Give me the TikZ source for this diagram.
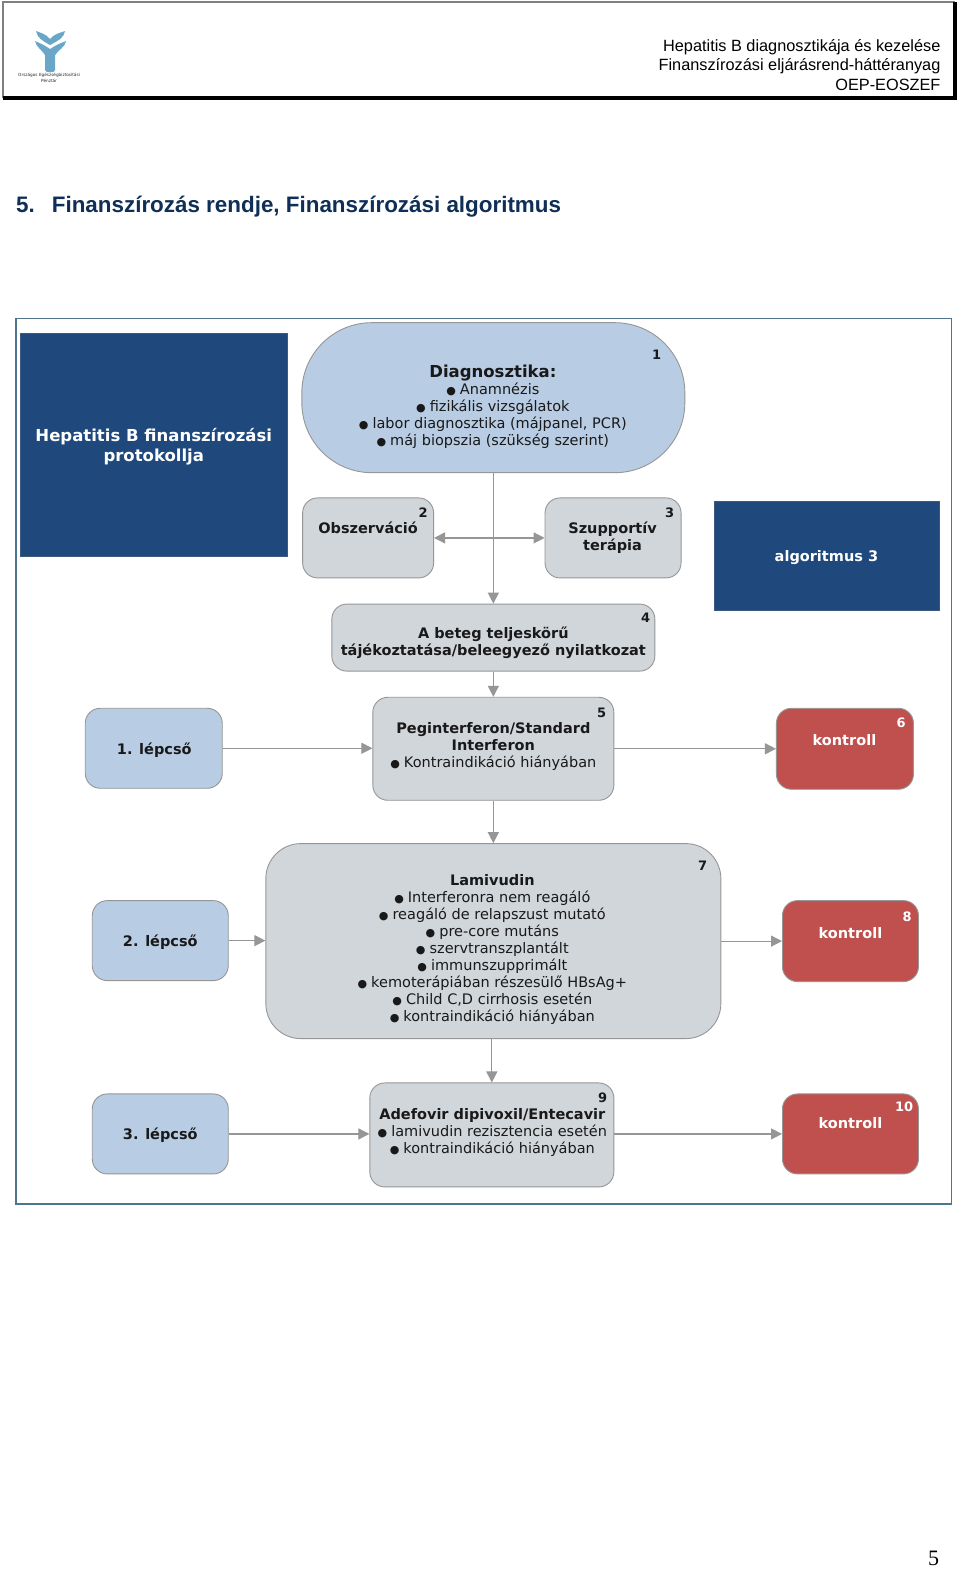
\documentclass[tikz,border=0pt]{standalone}
\usepackage{fontspec}
\setmainfont{DejaVu Sans}
\newfontfamily\arialfont{Liberation Sans}
\newfontfamily\serifont{Liberation Serif}
\usepackage{xcolor}
\definecolor{PanelBlue}{HTML}{1F497D}
\definecolor{StepBlue}{HTML}{B8CCE4}
\definecolor{BoxGrey}{HTML}{D1D6DB}
\definecolor{CheckRed}{HTML}{C0504D}
\definecolor{LineGrey}{HTML}{969696}
\definecolor{FrameBlue}{HTML}{4F7490}
\definecolor{TitleBlue}{HTML}{0F2F57}
\definecolor{LogoBlue}{HTML}{6AA6C8}
\usetikzlibrary{arrows.meta}
\newcommand{\pont}{{\fontsize{11}{11}\selectfont ●}\hspace{4pt}}
\tikzset{
  panel/.style={fill=PanelBlue, draw=PanelBlue!70!gray, inner sep=0pt},
  flowbox/.style={draw=LineGrey, line width=0.9pt, inner sep=0pt},
  greybox/.style={flowbox, fill=BoxGrey, rounded corners=15},
  stepbox/.style={flowbox, fill=StepBlue, rounded corners=15},
  redbox/.style={flowbox, fill=CheckRed, rounded corners=15},
  conn/.style={draw=LineGrey, line width=1.2pt, -{Triangle[length=11pt,width=11pt]}},
  boxtext/.style={align=center, font=\fontsize{14.5}{17}\selectfont, text=black!90},
  boldtext/.style={boxtext, font=\fontsize{14.5}{17}\selectfont\bfseries},
  numtext/.style={font=\fontsize{13}{13}\selectfont\bfseries, text=black!90},
  head/.style={anchor=east, inner sep=0pt, font=\arialfont\fontsize{16.3}{16.3}\selectfont, text=black},
}
\begin{document}
\begin{tikzpicture}[x=1.0017pt, y=-1.0017pt]
\useasboundingbox (0,0) rectangle (958.37,1567.33);

% fejlec
\fill[white] (0,0) rectangle (958.37,1567.33);
\draw[gray, line width=1.2pt] (3,98) -- (3,2) -- (953,2);
\draw[black, line width=4pt] (3,98) -- (953,98) -- (953,2);
\fill[LogoBlue] (36,31) .. controls (41,33) and (46,34) .. (50,39) .. controls (54,34) and (59,33) .. (65,31)
  .. controls (64,38) and (57,41) .. (50,45) .. controls (43,41) and (37,38) .. (36,31) -- cycle;
\fill[LogoBlue] (35,41) .. controls (40,43) and (46,46) .. (50,49) .. controls (54,46) and (60,43) .. (66,41)
  .. controls (65,47) and (58,50) .. (55,55) -- (55,70) .. controls (55,73) and (45,73) .. (45,70)
  -- (45,55) .. controls (42,50) and (36,47) .. (35,41) -- cycle;
\node[font=\fontsize{4.2}{6}\selectfont, align=center, text=black!85] (logotext) at (49,78) {Országos Egészségbiztosítási\\Pénztár};
\node[head] (headA) at (939,47.5) {Hepatitis B diagnosztikája és kezelése};
\node[head] (headB) at (939,66.5) {Finanszírozási eljárásrend-háttéranyag};
\node[head] (headC) at (939,85) {OEP-EOSZEF};
\node[anchor=west, inner sep=0pt, text=TitleBlue, font=\arialfont\bfseries\fontsize{22.4}{22.4}\selectfont] (title) at (16,206.5) {5.\hspace{17pt}Finanszírozás rendje, Finanszírozási algoritmus};
\node[font=\serifont\fontsize{22}{22}\selectfont] (pagenum) at (932,1555.5) {5};

% keret
\draw[FrameBlue, line width=1.2pt] (16,318) rectangle (950,1202);

% dobozok
\node[panel, minimum width=267, minimum height=223] (protocol) at (153.5,443.5) {};
\node[panel, minimum width=225, minimum height=109] (algo) at (825.5,554.5) {};
\node[stepbox, rounded corners=70, minimum width=383, minimum height=150] (diag) at (492.5,397) {};
\node[greybox, minimum width=131, minimum height=80] (obs) at (367.5,537) {};
\node[greybox, minimum width=136, minimum height=80] (szup) at (612,537) {};
\node[greybox, minimum width=323, minimum height=67] (inform) at (492.5,636.5) {};
\node[stepbox, minimum width=137, minimum height=80] (stepA) at (153.5,747) {};
\node[greybox, minimum width=241, minimum height=103] (peg) at (492.5,747.5) {};
\node[redbox, minimum width=137, minimum height=81] (ctrlA) at (843.5,747.5) {};
\node[stepbox, minimum width=136, minimum height=80] (stepB) at (160,939) {};
\node[greybox, rounded corners=35, minimum width=455, minimum height=195] (lami) at (492.5,939.5) {};
\node[redbox, minimum width=136, minimum height=81] (ctrlB) at (849,939.5) {};
\node[stepbox, minimum width=136, minimum height=80] (stepC) at (160,1132) {};
\node[greybox, minimum width=244, minimum height=104] (adef) at (491,1133) {};
\node[redbox, minimum width=136, minimum height=80] (ctrlC) at (849,1132) {};

% nyilak
\coordinate (split) at (492.5,537);
\draw[conn] (diag.south) -- (inform.north);
\draw[conn] (split) -- (obs.east);
\draw[conn] (split) -- (szup.west);
\draw[conn] (inform.south) -- (peg.north);
\draw[conn] (peg.south) -- (lami.north);
\draw[conn] (lami.south -| adef.north) -- (adef.north);
\draw[conn] (stepA.east) -- (stepA.east -| peg.west);
\draw[conn] (peg.east |- ctrlA.west) -- (ctrlA.west);
\draw[conn] (stepB.east) -- (stepB.east -| lami.west);
\draw[conn] (lami.east |- ctrlB.west) -- (ctrlB.west);
\draw[conn] (stepC.east) -- (stepC.east -| adef.west);
\draw[conn] (adef.east |- ctrlC.west) -- (ctrlC.west);

% szovegek
\node[align=center, text=white, font=\fontsize{16.5}{20}\selectfont\bfseries] (protocoltext) at (153.5,446) {Hepatitis B finanszírozási\\protokollja};
\node[boldtext, text=white] (algotext) at (825,557) {algoritmus 3};
\node[font=\fontsize{16.5}{16.5}\selectfont\bfseries, text=black!90] (diagtitle) at (492,372) {Diagnosztika:};
\node[boxtext] (diagtext) at (492,415) {\pont Anamnézis\\\pont fizikális vizsgálatok\\\pont labor diagnosztika (májpanel, PCR)\\\pont máj biopszia (szükség szerint)};
\node[boldtext] (obstext) at (367.5,527) {Obszerváció};
\node[boldtext] (szuptext) at (611.5,537) {Szupportív\\terápia};
\node[boldtext] (informtext) at (492.5,642) {A beteg teljeskörű\\tájékoztatása/beleegyező nyilatkozat};
\node[boldtext] (stepAtext) at (154,749) {1. lépcső};
\node[boxtext] (pegtext) at (492.5,745.5) {\textbf{Peginterferon/Standard}\\\textbf{Interferon}\\\pont Kontraindikáció hiányában};
\node[boldtext, text=white] (ctrlAtext) at (843,739) {kontroll};
\node[boldtext] (stepBtext) at (160,940.5) {2. lépcső};
\node[boxtext] (lamitext) at (491.5,948) {\textbf{Lamivudin}\\\pont Interferonra nem reagáló\\\pont reagáló de relapszust mutató\\\pont pre-core mutáns\\\pont szervtranszplantált\\\pont immunszupprimált\\\pont kemoterápiában részesülő HBsAg+\\\pont Child C,D  cirrhosis esetén\\\pont kontraindikáció hiányában};
\node[boldtext, text=white] (ctrlBtext) at (849,931.5) {kontroll};
\node[boldtext] (stepCtext) at (160,1133) {3. lépcső};
\node[boxtext] (adeftext) at (491.5,1130.5) {\textbf{Adefovir dipivoxil/Entecavir}\\\pont lamivudin rezisztencia esetén\\\pont kontraindikáció hiányában};
\node[boldtext, text=white] (ctrlCtext) at (849,1121.5) {kontroll};

% sorszamok
\node[numtext] (numA) at (655.5,354) {1};
\node[numtext] (numB) at (422.5,512) {2};
\node[numtext] (numC) at (668.5,512) {3};
\node[numtext] (numD) at (644.5,617) {4};
\node[numtext] (numE) at (600.5,712) {5};
\node[numtext, text=white] (numF) at (899.5,722) {6};
\node[numtext] (numG) at (701.5,864) {7};
\node[numtext, text=white] (numH) at (905.5,915) {8};
\node[numtext] (numI) at (601.5,1096) {9};
\node[numtext, text=white] (numJ) at (902.5,1105) {10};

\end{tikzpicture}
\end{document}
